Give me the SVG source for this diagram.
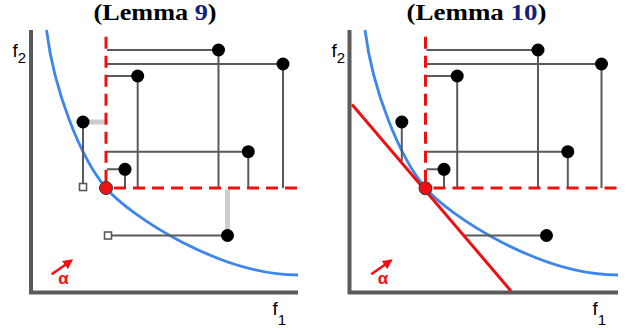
<svg xmlns="http://www.w3.org/2000/svg" width="626" height="330" viewBox="0 0 626 330">
<defs>
<style>
.title{font-family:"Liberation Serif","Times New Roman",serif;font-weight:bold;font-size:23px;fill:#000}
.num{fill:#15207a}
.lab{font-family:"Liberation Sans",Arial,sans-serif;font-size:19px;fill:#000}
.sub{font-size:15px}
.alpha{font-family:"Liberation Sans",Arial,sans-serif;font-weight:bold;font-size:17px;fill:#ee1111}
.axis{stroke:#5a5a5a;stroke-width:4;fill:none}
.curve{stroke:#3d86ee;stroke-width:2.8;fill:none}
.conn{stroke:#5a5a5a;stroke-width:2;fill:none}
.light{stroke:#cccccc;stroke-width:5;fill:none}
.dash{stroke:#ee1111;stroke-width:3;fill:none;stroke-dasharray:12 7}
.tang{stroke:#ee1111;stroke-width:3;fill:none}
.dot{fill:#000}
.rdot{fill:#ee1111;stroke:#333;stroke-width:1}
.sq{fill:#fff;stroke:#5a5a5a;stroke-width:1.6}
.arr{stroke:#ee1111;stroke-width:2.5;fill:none}
</style>
<marker id="ah" viewBox="0 0 10 10" refX="8" refY="5" markerWidth="4" markerHeight="4" orient="auto" markerUnits="strokeWidth">
<path d="M0,0 L10,5 L0,10 z" fill="#ee1111"/>
</marker>
</defs>

<!-- Left panel -->
<g id="panel-left">
<text class="title" x="155" y="20" text-anchor="middle" textLength="123" lengthAdjust="spacingAndGlyphs">(Lemma <tspan class="num">9</tspan>)</text>
<g id="axes-left">
<path class="axis" d="M31,30 V292.5 H298"/>
<text class="lab" x="12.5" y="57">f<tspan class="sub" dy="6">2</tspan></text>
<text class="lab" x="272.5" y="315">f<tspan class="sub" dy="10">1</tspan></text>
</g>
<path id="front-left" class="curve" d="M46.5,30 C54,90 80,157.5 106,188 C130,216 220,275 298,275"/>
<g id="connectors-left">
<path class="conn" d="M107,50 H218.5 V188"/>
<path class="conn" d="M107,64 H283 V188"/>
<path class="conn" d="M107,76 H137.7 V188"/>
<path class="conn" d="M107,151.7 H248.3 V188"/>
<path class="conn" d="M107,169.3 H125 V188"/>
<path class="conn" d="M83,122 V183.5"/>
<path class="light" d="M83,122 H106"/>
<path class="conn" d="M111.5,235.5 H227.5"/>
<path class="light" d="M227.5,235.5 V189.5"/>
<path class="dash" d="M106,36.7 V188"/>
<path class="dash" d="M106,188 H298" stroke-dashoffset="11"/>
<path class="arr" d="M51.7,274.3 L71.5,260.5" marker-end="url(#ah)"/>
</g>
<g id="n1-left"><circle class="dot" cx="218.5" cy="50" r="6.5"/></g>
<g id="n2-left"><circle class="dot" cx="283" cy="64" r="6.5"/></g>
<g id="n3-left"><circle class="dot" cx="137.7" cy="76" r="6.5"/></g>
<g id="n4-left"><circle class="dot" cx="83" cy="122" r="6.5"/><rect class="sq" x="79.5" y="183.5" width="7" height="7"/></g>
<g id="n5-left"><circle class="dot" cx="248.3" cy="151.7" r="6.5"/></g>
<g id="n6-left"><circle class="dot" cx="125" cy="169.3" r="6.5"/></g>
<g id="n7-left"><circle class="dot" cx="227.5" cy="235.5" r="6.5"/><rect class="sq" x="104.5" y="232" width="7" height="7"/></g>
<g id="ref-left"><circle class="rdot" cx="106" cy="188" r="6.5"/></g>
<text class="alpha" x="63.5" y="283.5" text-anchor="middle">α</text>
</g>

<!-- Right panel -->
<text class="title" x="476.5" y="20" text-anchor="middle" textLength="140" lengthAdjust="spacingAndGlyphs">(Lemma <tspan class="num">10</tspan>)</text>
<g id="panel-right" transform="translate(319.5,0)">
<g id="axes-right">
<path class="axis" d="M30,30 V292.5 H298.5"/>
<text class="lab" x="12" y="57">f<tspan class="sub" dy="6">2</tspan></text>
<text class="lab" x="273" y="315">f<tspan class="sub" dy="10">1</tspan></text>
</g>
<path id="front-right" class="curve" d="M45.5,30 C53,90 80,157.5 106,188 C130,216 220,275 298.5,275"/>
<g id="connectors-right">
<path class="conn" d="M107,50 H218.5 V188"/>
<path class="conn" d="M107,64 H282 V188"/>
<path class="conn" d="M107,76 H137.7 V188"/>
<path class="conn" d="M107,151.7 H248.3 V188"/>
<path class="conn" d="M107,169.3 H124.5 V188"/>
<path class="conn" d="M82.3,122 V161"/>
<path class="conn" d="M144,235.5 H227"/>
<path class="tang" d="M32.5,104.5 L191.5,291"/>
<path class="dash" d="M106,36.7 V188"/>
<path class="dash" d="M106,188 H298.5" stroke-dashoffset="11"/>
<path class="arr" d="M51.7,274.3 L71.5,260.5" marker-end="url(#ah)"/>
</g>
<g id="n1-right"><circle class="dot" cx="218.5" cy="50" r="6.5"/></g>
<g id="n2-right"><circle class="dot" cx="282" cy="64" r="6.5"/></g>
<g id="n3-right"><circle class="dot" cx="137.7" cy="76" r="6.5"/></g>
<g id="n4-right"><circle class="dot" cx="82.3" cy="122" r="6.5"/></g>
<g id="n5-right"><circle class="dot" cx="248.3" cy="151.7" r="6.5"/></g>
<g id="n6-right"><circle class="dot" cx="124.5" cy="169.3" r="6.5"/></g>
<g id="n7-right"><circle class="dot" cx="227" cy="235.5" r="6.5"/></g>
<g id="ref-right"><circle class="rdot" cx="106" cy="188.3" r="6.5"/></g>
<text class="alpha" x="63.5" y="283.5" text-anchor="middle">α</text>
</g>
</svg>
